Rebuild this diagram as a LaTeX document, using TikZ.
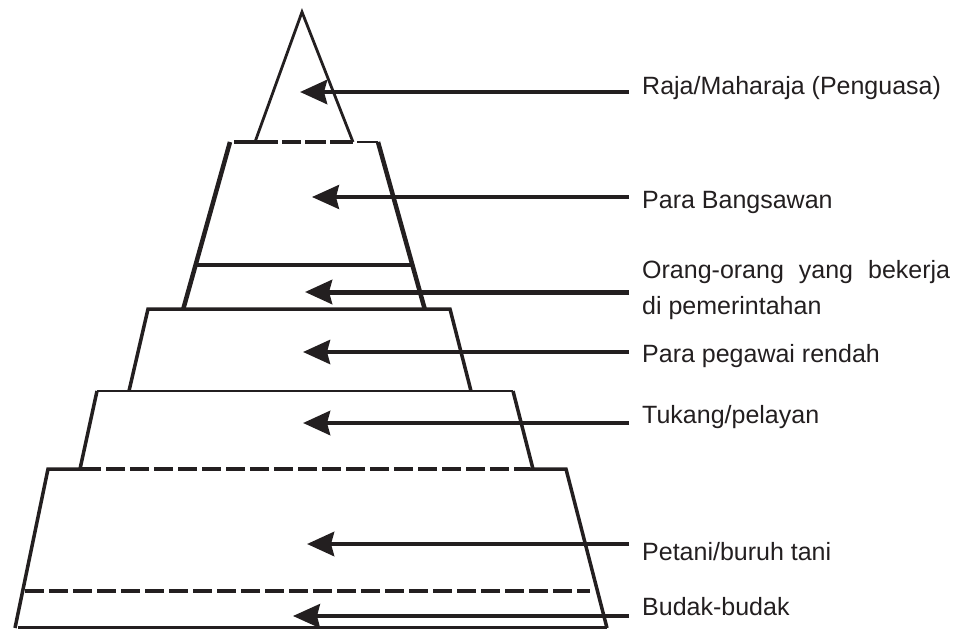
\documentclass[tikz,border=0pt]{standalone}
\usepackage{fontspec}
\setmainfont{Liberation Sans}
\usetikzlibrary{arrows.meta}
\definecolor{ink}{RGB}{35,31,32}
\begin{document}
\begin{tikzpicture}[x=1pt,y=-1pt,
  lbl/.style={anchor=base west,inner sep=0pt,font=\fontsize{25}{36}\selectfont,text=ink},
  arr/.style={draw=ink,line cap=butt,-{Stealth[length=27pt,width=24pt,inset=3pt]}},
  edge/.style={draw=ink,line cap=butt,line join=miter},
  dsh/.style={draw=ink,line cap=butt,dash pattern=on 19pt off 5pt}]
\useasboundingbox (0,0) rectangle (953,629);

% apex triangle
\draw[edge,line width=2.8pt] (255,142) -- (302,12) -- (353,142);
\draw[draw=ink,line cap=butt,line width=4.5pt,dash pattern=on 44pt off 4pt on 19pt off 4pt on 21pt off 4pt on 23pt off 10pt] (234,142) -- (357,142);
\draw[edge,line width=2.8pt] (357,142) -- (378,142);

% second tier
\draw[edge,line width=4.5pt] (230,142) -- (183,310);
\draw[edge,line width=4.5pt] (378,142) -- (425,310);
\draw[edge,line width=3.3pt] (196,265) -- (412,265);

% third tier
\draw[edge,line width=3.5pt] (129,391) -- (148,309) -- (450,309) -- (471,391);

% fourth tier
\draw[edge,line width=2.8pt] (97,391) -- (513,391);
\draw[edge,line width=3.5pt] (80,469) -- (97,391);
\draw[edge,line width=3.5pt] (513,391) -- (533,469);

% fifth tier
\draw[edge,line width=3.5pt] (15,628) -- (48,469) -- (82,469);
\draw[dsh,line width=4.5pt] (82,469) -- (530,469);
\draw[edge,line width=3.5pt] (530,469) -- (566,469) -- (607,628);
\draw[dsh,line width=4.5pt] (25,591) -- (590,591);
\draw[edge,line width=3pt] (18,627.3) -- (607,627.3);

% labels
\node[lbl] (l1) at (642,94) {Raja/Maharaja (Penguasa)};
\node[lbl] (l2) at (642,208) {Para Bangsawan};
\node[lbl] (l3) at (642,278) {\hbox to 308pt{Orang-orang\hfill yang\hfill bekerja}};
\node[lbl] (l3b) at (642,314) {di pemerintahan};
\node[lbl] (l4) at (642,362) {Para pegawai rendah};
\node[lbl] (l5) at (642,423) {Tukang/pelayan};
\node[lbl] (l6) at (642,560) {Petani/buruh tani};
\node[lbl] (l7) at (642,615) {Budak-budak};

% arrow endpoints
\coordinate (s1) at (629,92);  \coordinate (t1) at (300,92);
\coordinate (s2) at (629,197); \coordinate (t2) at (312,197);
\coordinate (s3) at (629,292); \coordinate (t3) at (305,292);
\coordinate (s4) at (629,352); \coordinate (t4) at (303,352);
\coordinate (s5) at (629,423); \coordinate (t5) at (303,423);
\coordinate (s6) at (629,544); \coordinate (t6) at (307,544);
\coordinate (s7) at (629,616); \coordinate (t7) at (293,616);

\draw[arr,line width=4.8pt] (s1) -- (t1);
\draw[arr,line width=3.3pt] (s2) -- (t2);
\draw[arr,line width=5pt] (s3) -- (t3);
\draw[arr,line width=4.3pt] (s4) -- (t4);
\draw[arr,line width=4.8pt] (s5) -- (t5);
\draw[arr,line width=4.8pt] (s6) -- (t6);
\draw[arr,line width=3.3pt] (s7) -- (t7);
\end{tikzpicture}
\end{document}
